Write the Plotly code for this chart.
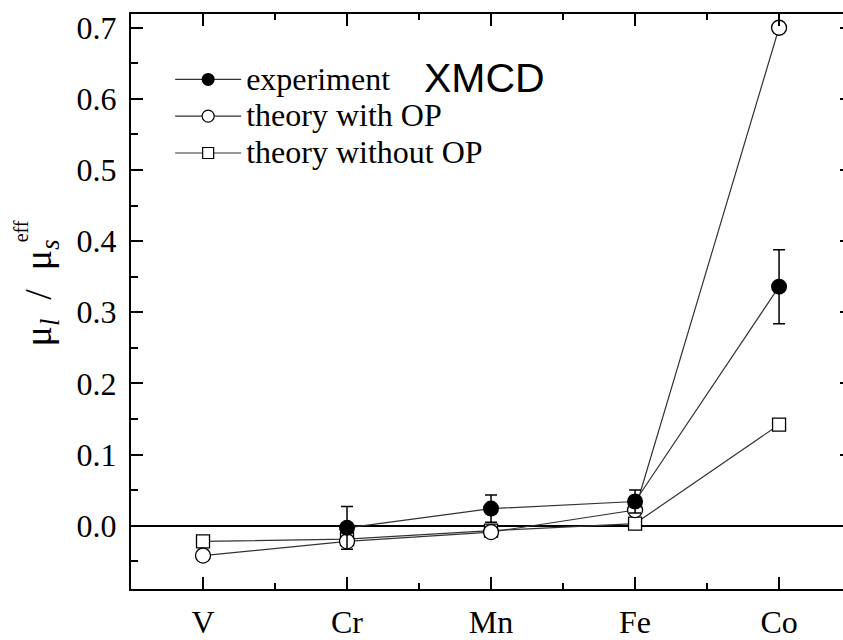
import plotly.graph_objects as go

# Transition-metal series on the x axis
elements = ["V", "Cr", "Mn", "Fe", "Co"]
xpos = [0, 1, 2, 3, 4]

# Orbital-to-effective-spin moment ratio
experiment = [None, -0.003, 0.024, 0.034, 0.336]
experiment_err = [None, 0.030, 0.019, 0.016, 0.052]
theory_with_op = [-0.042, -0.022, -0.009, 0.022, 0.700]
theory_without_op = [-0.022, -0.019, -0.007, 0.003, 0.142]

SERIF = "Liberation Serif"
LINE = dict(color="#333333", width=1.2)
NBSP = "\u00a0"


def legend_label(text):
    # legend text is drawn larger than the legend's row-height font
    return f'<span style="font-size:32px">{text}</span>'


fig = go.Figure()

# theory without orbital polarization (open squares)
fig.add_trace(go.Scatter(
    x=xpos, y=theory_without_op, mode="lines+markers", line=LINE,
    marker=dict(symbol="square", size=13, color="white",
                line=dict(color="black", width=1.3)),
    showlegend=False))

# theory with orbital polarization (open circles)
fig.add_trace(go.Scatter(
    x=xpos, y=theory_with_op, mode="lines+markers", line=LINE,
    marker=dict(symbol="circle", size=15, color="white",
                line=dict(color="black", width=1.3)),
    showlegend=False))

# experiment (filled circles with error bars)
fig.add_trace(go.Scatter(
    x=xpos, y=experiment, mode="lines+markers", line=LINE,
    marker=dict(symbol="circle", size=16, color="black"),
    error_y=dict(type="data", array=experiment_err, visible=True,
                 color="black", thickness=1.5, width=6),
    showlegend=False))

# legend entries with smaller symbols
fig.add_trace(go.Scatter(
    x=[None], y=[None], mode="lines+markers",
    name=legend_label("experiment"), line=LINE,
    marker=dict(symbol="circle", size=13, color="black")))
fig.add_trace(go.Scatter(
    x=[None], y=[None], mode="lines+markers",
    name=legend_label("theory with OP"), line=LINE,
    marker=dict(symbol="circle", size=12, color="white",
                line=dict(color="black", width=1.2))))
fig.add_trace(go.Scatter(
    x=[None], y=[None], mode="lines+markers",
    name=legend_label("theory without OP"), line=LINE,
    marker=dict(symbol="square", size=11, color="white",
                line=dict(color="black", width=1.2))))

# helper trace so the right-hand tick stubs are drawn
fig.add_trace(go.Scatter(x=[None], y=[None], yaxis="y2", showlegend=False,
                         hoverinfo="skip"))

yrange = [-0.089, 0.7193]

ytitle = (f"μ<sub><i>l</i></sub>{NBSP}{NBSP}/{NBSP}{NBSP}"
          f"μ<sub><i>s</i></sub>")

fig.update_layout(
    width=843, height=640,
    margin=dict(l=131, r=0, t=14, b=40),
    paper_bgcolor="white", plot_bgcolor="white",
    font=dict(family=SERIF, size=32, color="black"),
    xaxis=dict(
        range=[-0.5, 4.444], tickvals=xpos, ticktext=elements,
        showgrid=False, zeroline=False,
        showline=True, linecolor="black", linewidth=2, mirror="ticks",
        ticks="inside", ticklen=12, tickwidth=2, tickcolor="black",
        ticklabelstandoff=4,
        minor=dict(tickvals=[0.5, 1.5, 2.5, 3.5], ticks="inside",
                   ticklen=6, tickwidth=2, tickcolor="black"),
        tickfont=dict(family=SERIF, size=32, color="black"),
    ),
    yaxis=dict(
        range=yrange, tick0=0, dtick=0.1, tickformat=".1f",
        showgrid=False,
        zeroline=True, zerolinecolor="black", zerolinewidth=2,
        showline=True, linecolor="black", linewidth=2, mirror=False,
        ticks="inside", ticklen=12, tickwidth=2, tickcolor="black",
        ticklabelstandoff=6,
        minor=dict(dtick=0.05, ticks="inside", ticklen=7, tickwidth=2,
                   tickcolor="black"),
        tickfont=dict(family=SERIF, size=32, color="black"),
    ),
    yaxis2=dict(
        range=yrange, tick0=0, dtick=0.1, overlaying="y", side="right",
        anchor="x", showgrid=False, zeroline=False, showline=False,
        ticks="inside", ticklen=3, tickwidth=2, tickcolor="black",
        showticklabels=False,
    ),
    legend=dict(
        x=0.055, y=0.927, xanchor="left", yanchor="top",
        bgcolor="rgba(0,0,0,0)", borderwidth=0,
        itemwidth=66, tracegroupgap=0,
        font=dict(family=SERIF, size=26, color="black"),
    ),
    annotations=[
        dict(text="XMCD", xref="paper", yref="paper", x=0.496, y=0.888,
             xanchor="center", yanchor="middle", showarrow=False,
             font=dict(family="Liberation Sans", size=41, color="black")),
        dict(text=ytitle,
             xref="paper", yref="paper", x=0, y=0.514, xshift=-90,
             textangle=-90, xanchor="center", yanchor="middle",
             showarrow=False,
             font=dict(family=SERIF, size=38, color="black")),
        dict(text="eff", xref="paper", yref="paper", x=0, y=0.622,
             xshift=-110, textangle=-90, xanchor="center", yanchor="middle",
             showarrow=False,
             font=dict(family=SERIF, size=20, color="black")),
    ],
)

fig.write_html("out.html")
